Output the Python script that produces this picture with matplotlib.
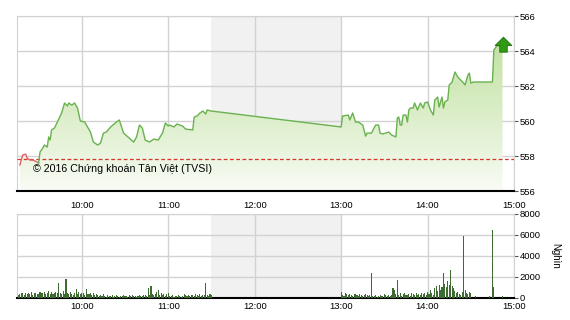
import numpy as np
import pandas as pd
import matplotlib
matplotlib.use("Agg")
from matplotlib import pyplot as plt
from matplotlib.path import Path

plt.rcParams['font.family'] = ['Liberation Sans', 'DejaVu Sans']

# index values
price_time = ['09:17', '09:19', '09:21', '09:22', '09:24', '09:26', '09:29', '09:30',
              '09:31', '09:33', '09:34', '09:36', '09:37', '09:38', '09:39', '09:41',
              '09:43', '09:46', '09:48', '09:50', '09:51', '09:53', '09:55', '09:57',
              '09:59', '10:02', '10:06', '10:08', '10:11', '10:13', '10:15', '10:17',
              '10:20', '10:24', '10:26', '10:29', '10:32', '10:36', '10:38', '10:40',
              '10:42', '10:44', '10:47', '10:50', '10:53', '10:56', '10:58', '11:00',
              '11:01', '11:04', '11:06', '11:10', '11:12', '11:17', '11:18', '11:20',
              '11:22', '11:24', '11:26', '11:27', '11:30',
              '13:00', '13:01', '13:05', '13:06', '13:08', '13:10', '13:12', '13:15',
              '13:17', '13:18', '13:21', '13:24', '13:26', '13:27', '13:29', '13:33',
              '13:35', '13:38', '13:39', '13:40', '13:41', '13:42', '13:43', '13:45',
              '13:46', '13:47', '13:48', '13:50', '13:51', '13:53', '13:55', '13:57',
              '13:58', '14:00', '14:02', '14:04', '14:05', '14:07', '14:08', '14:10',
              '14:11', '14:12', '14:14', '14:15', '14:17', '14:19', '14:21', '14:23',
              '14:25', '14:26', '14:28', '14:29', '14:30', '14:32', '14:45', '14:46',
              '14:48', '14:52']
price = [557.49, 558.06, 558.11, 557.89, 557.77, 557.77, 557.66, 557.60,
         558.23, 558.46, 558.63, 558.51, 559.09, 558.91, 559.49, 559.60,
         559.94, 560.46, 561.03, 560.86, 561.03, 560.91, 561.03, 560.74,
         560.00, 559.94, 559.37, 558.80, 558.63, 558.74, 559.31, 559.37,
         559.66, 559.94, 560.06, 559.31, 559.09, 558.80, 559.09, 559.77,
         559.60, 558.91, 558.80, 558.97, 558.91, 559.31, 559.89, 559.71,
         559.77, 559.66, 559.83, 559.71, 559.54, 559.49, 560.23, 560.29,
         560.46, 560.57, 560.40, 560.63, 560.57,
         559.66, 560.29, 560.34, 560.06, 560.46, 559.94, 559.94, 559.77,
         559.14, 559.31, 559.31, 559.77, 559.77, 559.31, 559.26, 559.37,
         559.20, 559.09, 560.17, 560.23, 559.77, 559.77, 560.34, 560.34,
         559.94, 560.63, 560.74, 560.74, 561.03, 560.63, 561.03, 560.74,
         561.03, 561.09, 560.63, 560.34, 561.20, 561.37, 560.80, 561.37,
         560.74, 561.09, 561.20, 562.06, 562.23, 562.80, 562.51, 562.34,
         562.17, 562.06, 562.63, 562.74, 562.17, 562.23, 562.23, 564.06,
         564.29, 564.34]
ref_price = 557.83
red_until = '09:30'

# volume per minute (Nghìn)
vol_am = [250, 400, 500, 450, 300, 500, 350, 450, 400, 550,
          300, 450, 500, 400, 350, 550, 450, 500, 600, 400,
          500, 650, 400, 550, 350, 500, 600, 450,
          1450,
          500, 400, 650, 350,
          1780,
          450, 400, 600, 350, 300, 500,
          850,
          400, 550, 350, 500, 450, 300,
          850,
          400, 350, 500, 300, 450, 250, 400,
          300, 200, 250, 150, 350, 200, 100, 250, 150, 200, 300, 100, 150, 250, 200,
          100, 150, 200, 250, 150, 200, 100, 300, 150, 250, 200, 150, 100, 200, 250,
          150, 200, 300, 250, 200,
          950, 300, 1100, 400, 250, 350, 600, 750,
          300, 500, 250, 400, 200, 350, 450,
          200, 150, 250, 100, 150, 200, 300, 150, 100, 200, 400, 250, 150, 300, 200,
          300, 250, 150, 350, 300, 200, 400, 150, 250, 300,
          1400,
          300, 200, 350, 250]
vol_pm = [550, 300, 200, 450, 350, 250, 400, 300, 150, 350,
          400, 300, 200, 350, 250, 150, 300, 400, 250, 200, 300,
          2350,
          200, 150, 250, 100, 200, 300, 150, 200, 350, 250, 150, 300, 200, 250,
          900, 800, 400,
          1700,
          300, 450, 200, 350, 500, 250, 300, 400, 200, 450,
          350, 300, 500, 250, 400, 300, 450, 350, 500, 300,
          600, 400, 800, 500, 300, 900, 1100, 700, 1200, 800, 1000,
          2400,
          1300, 1000, 1600, 1200,
          2650,
          1100, 900, 700, 500, 600, 400, 300, 600,
          5900,
          800, 500, 400, 600, 500,
          0, 0, 200, 0, 0, 0, 0, 0, 0, 0, 0, 0, 150, 0,
          6500, 1000,
          0, 0, 0, 0, 0, 150]

hours = ['10:00', '11:00', '12:00', '13:00', '14:00', '15:00']
price_ticks = [556, 558, 560, 562, 564, 566]
vol_ticks = [0, 2000, 4000, 6000, 8000]


def to_min(s):
    h, m = s.split(':')
    return int(h) * 60 + int(m)


t = np.array([to_min(s) for s in price_time], dtype=float)
p = np.array(price)
t_vol = np.concatenate([to_min('09:16') + np.arange(len(vol_am)),
                        to_min('13:00') + np.arange(len(vol_pm))])
v = np.array(vol_am + vol_pm, dtype=float)
hour_pos = [to_min(h) for h in hours]
x0, x1 = to_min('09:15'), to_min('15:00')
lunch0, lunch1 = to_min('11:30'), to_min('13:00')

grid_c = '#d2d2d2'
fig = plt.figure(figsize=(5.7, 3.2), dpi=100)
ax = fig.add_axes([0.0298, 0.403, 0.872, 0.547])
ax2 = fig.add_axes([0.0298, 0.069, 0.872, 0.2625])

for a in (ax, ax2):
    a.set_xlim(x0, x1)
    a.axvspan(lunch0, lunch1, color='#f1f1f1', zorder=0, lw=0)
    a.set_xticks(hour_pos)
    a.grid(True, color=grid_c, lw=1)
    a.set_axisbelow(True)
    for s in ('left', 'top', 'right'):
        a.spines[s].set_color(grid_c)
    a.spines['bottom'].set_color('black')
    a.spines['bottom'].set_linewidth(1.5)
    a.yaxis.tick_right()
    a.tick_params(axis='y', length=3, width=0.8, color='#555555', labelsize=6.8, pad=1)
    a.tick_params(axis='x', length=0, labelsize=6.8)

# price panel
ax.set_ylim(556, 566)
ax.set_yticks(price_ticks)
ax.set_xticklabels([])

poly = ax.fill_between(t, p, 556, color='none', lw=0)
grad = np.linspace(0, 1, 256).reshape(-1, 1)
top_c = np.array([185, 222, 150]) / 255
bot_c = np.array([250, 252, 247]) / 255
img = bot_c + (top_c - bot_c) * grad[:, :, None] ** 0.9
im = ax.imshow(img, extent=[x0, x1, 556, 566], origin='lower', aspect='auto', zorder=1)
im.set_clip_path(poly.get_paths()[0], transform=ax.transData)

ax.axhline(ref_price, color='#d8352a', lw=0.9, ls=(0, (3, 2)), zorder=3)
k = np.searchsorted(t, to_min(red_until)) + 1
ax.plot(t[:k], p[:k], color='#e0606a', lw=1, zorder=4)
ax.plot(t[k - 1:], p[k - 1:], color='#6ab150', lw=1, zorder=4)

arrow = Path([(-1, 0), (0, 1), (1, 0), (0.45, 0), (0.45, -0.8), (-0.45, -0.8), (-0.45, 0), (-1, 0)],
             [Path.MOVETO] + [Path.LINETO] * 6 + [Path.CLOSEPOLY])
ax.plot(t[-1:], p[-1:], marker=arrow, markersize=12, color='#2f9a12',
        markeredgecolor='#1f6b0a', markeredgewidth=0.6, zorder=5, clip_on=False)

ax.text(0.032, 0.126, '© 2016 Chứng khoán Tân Việt (TVSI)', transform=ax.transAxes,
        fontsize=7.7, va='center', ha='left', zorder=6)

# volume panel
ax2.set_ylim(0, 8000)
ax2.set_yticks(vol_ticks)
ax2.bar(t_vol, v, width=0.75, color='#3d6b31', align='center', zorder=3)
ax2.set_xticklabels(hours)
ax2.tick_params(axis='x', labeltop=True, labelbottom=True, pad=3)
ax2.yaxis.set_label_position('right')
ax2.set_ylabel('Nghìn', rotation=270, fontsize=7, labelpad=14)

fig.savefig('out.png', dpi=100)
